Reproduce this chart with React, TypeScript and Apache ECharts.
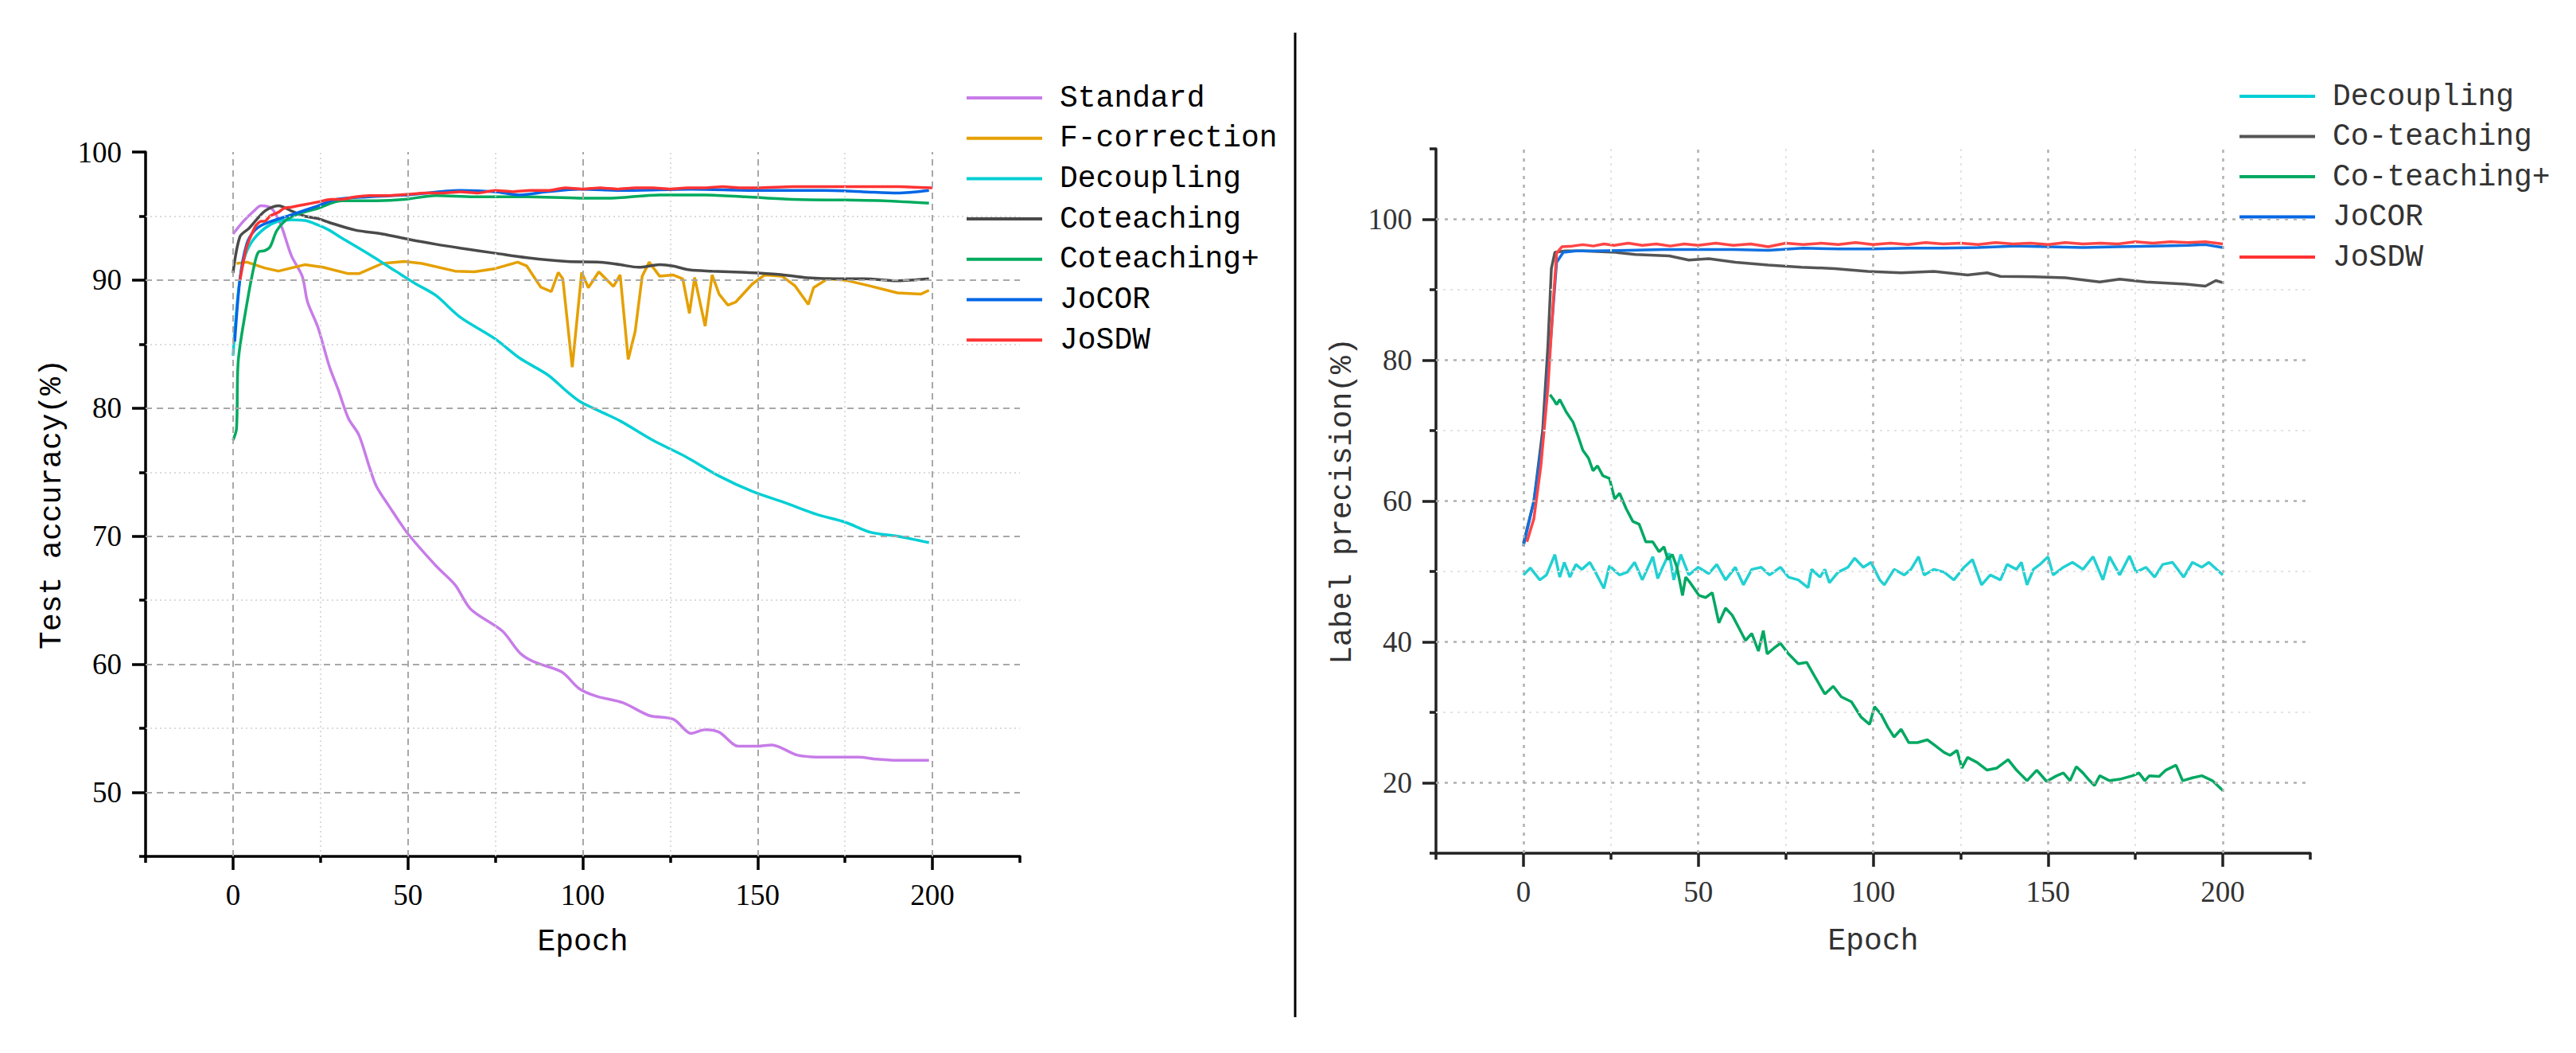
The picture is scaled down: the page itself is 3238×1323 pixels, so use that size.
import React, { useEffect, useRef } from "react";
import * as echarts from "echarts";

const W = 3238;
const H = 1323;

// ---------- Left chart: test accuracy (%) ----------
const leftStandard: [number, number][] = [
  [0, 93.6], [3, 94.6], [6, 95.4], [8, 95.8], [11, 95.6], [13.7, 94.3], [16.7, 91.9], [19.8, 90.3],
  [21.3, 88.3], [24.3, 86.3], [27.5, 83.3], [30, 81.5], [33, 79.2], [36, 77.9], [39, 75.4], [41, 73.9],
  [44.5, 72.4], [50, 70.2], [58, 67.7], [63.5, 66.2], [68, 64.3], [77, 62.6], [82, 60.9], [86, 60.2],
  [94, 59.4], [99, 58.1], [104, 57.5], [111.5, 57.0], [119, 56.0], [126, 55.7], [131, 54.6], [135, 54.9],
  [139, 54.7], [144.5, 53.6], [150, 53.6], [154, 53.7], [161.5, 52.9], [169, 52.75], [178.7, 52.75],
  [184, 52.6], [190, 52.5], [199, 52.5],
];
const leftFCorrection: [number, number][] = [
  [1, 91.3], [4, 91.4], [9, 90.95], [13, 90.7], [16.7, 90.95], [20.5, 91.2], [25.7, 91.0], [33, 90.5],
  [36, 90.5], [42.7, 91.3], [49, 91.45], [54, 91.3], [63.5, 90.7], [69, 90.65], [75, 90.9], [81.4, 91.4],
  [84, 91.1], [88, 89.45], [91, 89.1], [93, 90.6], [94.3, 90.1], [97, 83.2], [99.7, 90.6], [101.6, 89.4],
  [104.6, 90.65], [108.8, 89.5], [110.7, 90.4], [113, 83.8], [115, 86], [117, 90.3], [119, 91.4],
  [122, 90.3], [125.8, 90.4], [128.6, 90.1], [130.5, 87.4], [132, 90.2], [135, 86.4], [137, 90.4],
  [139, 88.9], [141.5, 88.05], [143.8, 88.3], [148.5, 89.7], [152, 90.4], [157, 90.3], [160.7, 89.55],
  [164.5, 88.1], [166, 89.4], [170, 90.1], [175, 90.0], [182, 89.55], [190, 89.0], [196.6, 88.9], [199, 89.2],
];
const leftDecoupling: [number, number][] = [
  [0, 84.1], [1.6, 89.3], [3.1, 91.6], [5.4, 93.0], [9.1, 94.05], [13, 94.6], [16.7, 94.7], [20.5, 94.65],
  [24.3, 94.3], [27.5, 93.9], [31, 93.3], [39, 92.0], [46.5, 90.7], [52, 89.75], [58, 88.8], [65, 87.1],
  [75, 85.4], [82, 83.9], [90, 82.6], [95.5, 81.3], [99.3, 80.5], [103, 80.0], [110.7, 79.0], [120, 77.5],
  [129.5, 76.2], [139, 74.7], [148.5, 73.5], [158, 72.6], [167, 71.7], [175, 71.1], [182.4, 70.3],
  [190, 70.0], [199, 69.5],
];
const leftCoteaching: [number, number][] = [
  [0, 90.55], [2, 93.4], [4.6, 94.05], [9.1, 95.4], [13, 95.8], [16.7, 95.4], [20.5, 95.0], [24.3, 94.8],
  [27.5, 94.5], [35, 93.9], [42.7, 93.6], [50, 93.2], [58, 92.8], [65, 92.5], [75, 92.1], [84, 91.75],
  [95.5, 91.45], [105, 91.4], [110.7, 91.2], [116, 91.0], [122, 91.2], [125.8, 91.1], [130.5, 90.8],
  [137, 90.7], [146.6, 90.6], [156, 90.45], [163.5, 90.2], [173, 90.1], [180.5, 90.1], [190, 89.95], [199, 90.1],
];
const leftCoteachingPlus: [number, number][] = [
  [0, 77.5], [1, 78.4], [1.5, 83.7], [3.9, 88.05], [6.1, 91.2], [7.3, 92.2], [9.1, 92.3], [10.6, 92.6],
  [12.5, 93.85], [15.2, 94.7], [19, 95.2], [24.3, 95.6], [31, 96.2], [41, 96.2], [49, 96.3], [58, 96.6],
  [69, 96.5], [84, 96.5], [99, 96.4], [107, 96.4], [122, 96.65], [135, 96.65], [146.6, 96.5], [160, 96.3],
  [175, 96.25], [186, 96.2], [199, 96.0],
];
const leftJoCOR: [number, number][] = [
  [0.5, 85.2], [2, 90.1], [3.9, 92.8], [6.1, 93.85], [9.1, 94.4], [16.7, 95.1], [24.3, 95.8], [29.5, 96.3],
  [39, 96.5], [50, 96.65], [65, 97.0], [75, 96.9], [82, 96.65], [90, 96.9], [99, 97.1], [112, 97.0],
  [131, 97.1], [150, 97.0], [169, 97.0], [180, 96.9], [190, 96.8], [199, 97.0],
];
const leftJoSDW: [number, number][] = [
  [2, 90.0], [3.9, 92.6], [6.4, 94.2], [8, 94.6], [9.1, 94.6], [10.6, 95.0], [13, 95.3], [14.5, 95.6],
  [16.7, 95.7], [20.5, 95.9], [24.3, 96.1], [28, 96.3], [31, 96.3], [35, 96.5], [39, 96.6], [45, 96.6],
  [50, 96.7], [55, 96.8], [60, 96.8], [65, 96.9], [70, 96.8], [75, 97.0], [80, 96.9], [85, 97.0],
  [90, 97.0], [95, 97.2], [100, 97.1], [105, 97.2], [110, 97.1], [115, 97.2], [120, 97.2], [125, 97.1],
  [130, 97.2], [135, 97.2], [140, 97.3], [145, 97.2], [150, 97.2], [160, 97.3], [170, 97.3], [180, 97.3],
  [190, 97.3], [200, 97.2],
];

// ---------- Right chart: label precision (%) ----------
const rightDecoupling: [number, number][] = [
  [0, 49.5], [2, 50.5], [4.7, 48.8], [6.6, 49.5], [9, 52.4], [10.4, 49.2], [11.7, 51.3], [13.3, 49.2],
  [15, 51], [16.7, 50.3], [19, 51.3], [20.8, 49.7], [23, 47.6], [24.6, 50.8], [27.5, 49.5], [29.7, 49.9],
  [31.8, 51.3], [34, 48.8], [37, 52.1], [38.4, 49.0], [39.8, 50.6], [41.7, 52.6], [43, 48.8], [45, 52.4],
  [47.3, 49.5], [50, 50.6], [53, 49.7], [55.3, 51], [57.8, 48.8], [60.6, 50.6], [62.9, 48.1], [65.3, 50.3],
  [68, 50.6], [70.4, 49.5], [73.5, 50.6], [75.8, 49.2], [78.6, 48.8], [81.4, 47.7], [82.4, 50.3], [84.8, 49.2],
  [86.2, 50.3], [87.5, 48.4], [90, 49.9], [92.8, 50.6], [94.7, 51.9], [97.2, 50.6], [99.4, 51.3], [101.9, 48.8],
  [103.2, 48.1], [106, 50.3], [108.9, 49.5], [110.8, 50.3], [113, 52.1], [114.6, 49.5], [117.4, 50.3],
  [120.3, 49.9], [123.1, 48.8], [126, 50.6], [128.4, 51.7], [131, 48.1], [133.5, 49.5], [136.4, 48.8],
  [138.3, 51], [141, 50.3], [142.4, 51.3], [144, 48.1], [145.8, 50.3], [147.7, 51], [150, 52.1], [151.5, 49.5],
  [154.4, 50.6], [157, 51.3], [160, 50.3], [162.9, 52.1], [165.7, 48.8], [167.6, 52.1], [170.5, 49.5],
  [173.3, 52.2], [175.2, 49.9], [178, 50.6], [180.5, 49.2], [182.8, 51], [185.6, 51.3], [188.8, 49.2],
  [191.3, 51.3], [194, 50.6], [196, 51.3], [200, 49.5],
];
const rightCoteaching: [number, number][] = [
  [0, 54.0], [3, 60.0], [5.5, 70.0], [7, 82.0], [8, 93.0], [9, 95.3], [12, 95.5], [17, 95.5], [26.5, 95.3],
  [32, 95.0], [41.7, 94.8], [47.3, 94.2], [53, 94.4], [60.6, 93.9], [70, 93.5], [79.5, 93.2], [89, 93.0],
  [98.5, 92.6], [108, 92.4], [117.4, 92.6], [127, 92.1], [132.6, 92.4], [136.4, 91.9], [146, 91.85],
  [155, 91.7], [164.8, 91.1], [170.5, 91.5], [178, 91.1], [189.4, 90.8], [195, 90.5], [198, 91.3], [200, 91.0],
];
const rightCoteachingPlus: [number, number][] = [
  [7.6, 75.1], [8.5, 74.5], [9.5, 73.7], [10.4, 74.4], [12.3, 72.6], [14.2, 71.2], [15.5, 69.4], [17, 67.2],
  [18.6, 66.1], [19.9, 64.3], [21.2, 65], [22.7, 63.6], [24.6, 63.2], [26.1, 60.3], [27.5, 61.1], [29.4, 58.9],
  [31.3, 57.1], [33.1, 56.7], [35, 54.2], [37, 54.2], [38.8, 52.8], [40.2, 53.5], [41.3, 51.7], [42.6, 52.4],
  [43.9, 50.6], [45.5, 46.6], [46.4, 49.2], [47.7, 48.4], [50.2, 46.6], [52.1, 46.3], [54, 47], [55.9, 42.7],
  [57.8, 44.8], [59.7, 43.8], [61.6, 42], [63.5, 40.2], [65.3, 41.2], [67.2, 38.7], [68.6, 41.6], [69.7, 38.3],
  [71.6, 39.1], [73.5, 39.8], [75.8, 38.3], [78.6, 36.9], [81, 37.1], [83.3, 35.1], [86.2, 32.6], [88.6, 33.7],
  [90.9, 32.2], [93.8, 31.5], [96.6, 29.3], [99, 28.3], [100.4, 30.8], [102.3, 29.7], [104.2, 27.9],
  [106, 26.5], [108, 27.6], [110.2, 25.7], [112.7, 25.7], [115.5, 26.1], [117.4, 25.4], [120.3, 24.3],
  [122, 23.9], [124, 24.6], [125.4, 22.1], [127, 23.6], [129.7, 22.9], [132.6, 21.8], [135.4, 22.1],
  [138.6, 23.3], [141, 21.8], [144, 20.3], [146.8, 21.8], [149.6, 20.2], [152.5, 21.0], [154.4, 21.4],
  [156.3, 20.3], [158.1, 22.3], [160, 21.4], [161.9, 20.3], [163.3, 19.6], [164.8, 21], [167.6, 20.3],
  [170.5, 20.5], [174.2, 21], [176, 21.4], [177.7, 20.3], [179, 21], [181.8, 20.9], [183.7, 21.8],
  [186.6, 22.5], [188.5, 20.3], [191.3, 20.7], [194, 21], [197, 20.3], [200, 18.9],
];
const rightJoCOR: [number, number][] = [
  [0, 53.6], [3, 60], [5.7, 69.4], [7.6, 81.6], [9.5, 93.9], [11.4, 95.3], [15, 95.5], [20, 95.5],
  [30, 95.6], [40, 95.7], [50, 95.7], [60, 95.7], [70, 95.6], [80, 95.9], [90, 95.8], [100, 95.8],
  [110, 95.9], [120, 95.9], [130, 96.0], [140, 96.2], [150, 96.1], [160, 96.0], [170, 96.1], [180, 96.2],
  [190, 96.3], [195, 96.4], [200, 96.0],
];
const rightJoSDW: [number, number][] = [
  [1, 54.2], [3, 57.5], [5, 65], [7, 76], [8.5, 88], [9.5, 95.2], [11, 96.1], [14, 96.2], [17, 96.4],
  [20, 96.2], [23, 96.5], [26, 96.3], [30, 96.6], [34, 96.3], [38, 96.5], [42, 96.2], [46, 96.5], [50, 96.3],
  [55, 96.6], [60, 96.3], [65, 96.5], [70, 96.1], [75, 96.6], [80, 96.4], [85, 96.6], [90, 96.4], [95, 96.7],
  [100, 96.4], [105, 96.6], [110, 96.4], [115, 96.7], [120, 96.5], [125, 96.6], [130, 96.4], [135, 96.7],
  [140, 96.5], [145, 96.6], [150, 96.4], [155, 96.7], [160, 96.5], [165, 96.6], [170, 96.5], [175, 96.8],
  [180, 96.6], [185, 96.8], [190, 96.7], [195, 96.8], [200, 96.5],
];

// ---------- Ticks ----------
const xMajor = [0, 50, 100, 150, 200];
const xMinor = [-25, 25, 75, 125, 175, 225];
const xMinorGrid = [25, 75, 125, 175];
const leftYMajor = [50, 60, 70, 80, 90, 100];
const leftYMinor = [45, 55, 65, 75, 85, 95];
const leftYMajorGrid = [50, 60, 70, 80, 90];
const leftYMinorGrid = [55, 65, 75, 85, 95];
const rightYMajor = [20, 40, 60, 80, 100];
const rightYMinor = [10, 30, 50, 70, 90, 110];
const rightYMinorGrid = [30, 50, 70, 90];

const leftNames = ["Standard", "F-correction", "Decoupling", "Coteaching", "Coteaching+", "JoCOR", "JoSDW"];
const leftColors = ["#C77CE8", "#E5A000", "#00CFD4", "#4A4A4A", "#00AA5E", "#0066E6", "#FF3333"];
const rightNames = ["Decoupling", "Co-teaching", "Co-teaching+", "JoCOR", "JoSDW"];
const rightColors = ["#22D0D2", "#555555", "#00A862", "#1070E0", "#FF4545"];

const TICK_FONT = "Liberation Serif";
const MONO = "Liberation Mono";

export default function App() {
  const ref = useRef<HTMLDivElement>(null);
  useEffect(() => {
    if (!ref.current) return;
    const chart = echarts.init(ref.current, undefined, { renderer: "svg", width: W, height: H });

    const leftData = [leftStandard, leftFCorrection, leftDecoupling, leftCoteaching, leftCoteachingPlus, leftJoCOR, leftJoSDW];
    const rightData = [rightDecoupling, rightCoteaching, rightCoteachingPlus, rightJoCOR, rightJoSDW];
    const leftSmooth = [0.3, 0, 0.3, 0.3, 0.3, 0.3, 0.2];

    const gridSeries = (xi: number, yi: number, major: any, minor: any, xMaj: number[], xMin: number[], yMaj: number[], yMin: number[]) => ({
      type: "line",
      name: "_grid" + xi,
      xAxisIndex: xi,
      yAxisIndex: yi,
      data: [],
      silent: true,
      z: 1,
      markLine: {
        silent: true,
        symbol: ["none", "none"],
        label: { show: false },
        emphasis: { disabled: true },
        animation: false,
        data: [
          ...xMin.map((v) => ({ xAxis: v, lineStyle: minor })),
          ...yMin.map((v) => ({ yAxis: v, lineStyle: minor })),
          ...xMaj.map((v) => ({ xAxis: v, lineStyle: major })),
          ...yMaj.map((v) => ({ yAxis: v, lineStyle: major })),
        ],
      },
    });

    const leftMajorStyle = { color: "#A8A8A8", type: [8, 6], width: 2 };
    const leftMinorStyle = { color: "#D0D0D0", type: [2, 4], width: 1.5 };
    const rightMajorStyle = { color: "#B0B0B0", type: [4, 7], width: 2.5 };
    const rightMinorStyle = { color: "#E4E4E4", type: [3, 6], width: 2 };

    const xAxisPair = (gridIndex: number, color: string, labelColor: string, nameGap: number) => [
      {
        type: "value", gridIndex, position: "bottom", min: -25, max: 225, interval: 25,
        axisLine: { show: true, onZero: false, lineStyle: { color, width: 3.5 } },
        axisTick: { show: true, customValues: xMajor, length: 17, lineStyle: { color, width: 3.5 } },
        axisLabel: { customValues: xMajor, margin: 30, fontFamily: TICK_FONT, fontSize: 37, color: labelColor },
        splitLine: { show: false },
        name: "Epoch", nameLocation: "middle", nameGap,
        nameTextStyle: { fontFamily: MONO, fontSize: 38, color: labelColor },
      },
      {
        type: "value", gridIndex, position: "bottom", min: -25, max: 225, interval: 25,
        axisLine: { show: false, onZero: false },
        axisTick: { show: true, customValues: xMinor, length: 8, lineStyle: { color, width: 3.5 } },
        axisLabel: { show: false },
        splitLine: { show: false },
      },
    ];
    const yAxisPair = (gridIndex: number, min: number, max: number, major: number[], minor: number[], color: string, labelColor: string, name: string) => [
      {
        type: "value", gridIndex, position: "left", min, max, interval: 5,
        axisLine: { show: true, onZero: false, lineStyle: { color, width: 3.5 } },
        axisTick: { show: true, customValues: major, length: 17, lineStyle: { color, width: 3.5 } },
        axisLabel: { customValues: major, margin: 30, fontFamily: TICK_FONT, fontSize: 37, color: labelColor },
        splitLine: { show: false },
        name, nameLocation: "middle", nameGap: 99, nameRotate: 90,
        nameTextStyle: { fontFamily: MONO, fontSize: 38, color: labelColor },
      },
      {
        type: "value", gridIndex, position: "left", min, max, interval: 5,
        axisLine: { show: false, onZero: false },
        axisTick: { show: true, customValues: minor, length: 8, lineStyle: { color, width: 3.5 } },
        axisLabel: { show: false },
        splitLine: { show: false },
      },
    ];

    const option: any = {
      animation: false,
      backgroundColor: "#ffffff",
      grid: [
        { left: 183, top: 191, width: 1099, height: 885, containLabel: false },
        { left: 1805, top: 187, width: 1099, height: 885, containLabel: false },
      ],
      xAxis: [
        ...xAxisPair(0, "#000000", "#000000", 88),
        ...xAxisPair(1, "#222222", "#333333", 91),
      ],
      yAxis: [
        ...yAxisPair(0, 45, 100, leftYMajor, leftYMinor, "#000000", "#000000", "Test accuracy(%)"),
        ...yAxisPair(1, 10, 110, rightYMajor, rightYMinor, "#222222", "#333333", "Label precision(%)"),
      ],
      legend: [
        {
          orient: "vertical", left: 1210, top: 98, itemWidth: 95, itemHeight: 4, itemGap: 10.7,
          icon: "rect", data: leftNames, selectedMode: false,
          textStyle: { fontFamily: MONO, fontSize: 38, lineHeight: 40, color: "#000", padding: [0, 0, 0, 17] },
        },
        {
          orient: "vertical", left: 2810, top: 96, itemWidth: 95, itemHeight: 4, itemGap: 10.5,
          icon: "rect", data: rightNames, selectedMode: false,
          textStyle: { fontFamily: MONO, fontSize: 38, lineHeight: 40, color: "#333", padding: [0, 0, 0, 17] },
        },
      ],
      graphic: [
        { type: "line", shape: { x1: 1628, y1: 41, x2: 1628, y2: 1278 }, style: { stroke: "#000", lineWidth: 3 } },
      ],
      series: [
        gridSeries(0, 0, leftMajorStyle, leftMinorStyle, xMajor, xMinorGrid, leftYMajorGrid, leftYMinorGrid),
        gridSeries(2, 2, rightMajorStyle, rightMinorStyle, xMajor, xMinorGrid, rightYMajor, rightYMinorGrid),
        ...leftData.map((d, i) => ({
          type: "line", name: leftNames[i], xAxisIndex: 0, yAxisIndex: 0, data: d,
          showSymbol: false, smooth: leftSmooth[i], z: 3,
          itemStyle: { color: leftColors[i] },
          lineStyle: { color: leftColors[i], width: 3.5 },
        })),
        ...rightData.map((d, i) => ({
          type: "line", name: rightNames[i], xAxisIndex: 2, yAxisIndex: 2, data: d,
          showSymbol: false, smooth: false, z: 3,
          itemStyle: { color: rightColors[i] },
          lineStyle: { color: rightColors[i], width: 3.5 },
        })),
      ],
    };
    chart.setOption(option);
    return () => chart.dispose();
  }, []);
  return <div ref={ref} style={{ position: "absolute", left: 0, top: 0, width: W, height: H, background: "#fff" }} />;
}
